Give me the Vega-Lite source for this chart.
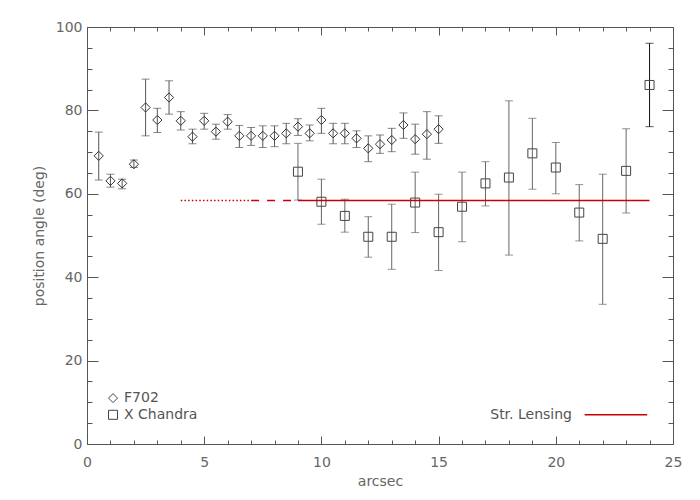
{
  "$schema": "https://vega.github.io/schema/vega-lite/v6.json",
  "autosize": {"type": "none"},
  "padding": {"left": 87, "top": 27, "right": 27, "bottom": 56},
  "width": 586,
  "height": 417,
  "background": "white",
  "config": {
    "view": {"stroke": null},
    "axis": {
      "grid": false,
      "domainColor": "#555",
      "tickColor": "#555",
      "labelColor": "#666",
      "titleColor": "#666",
      "labelFont": "DejaVu Sans",
      "titleFont": "DejaVu Sans",
      "labelFontSize": 14,
      "titleFontSize": 14,
      "titleFontWeight": "normal",
      "domainWidth": 1,
      "tickWidth": 1
    }
  },
  "datasets": {
    "f702": [
      {"x": 0.5, "y": 69.1, "lo": 63.3, "hi": 74.8},
      {"x": 1.0, "y": 63.1, "lo": 61.6, "hi": 64.7},
      {"x": 1.5, "y": 62.5, "lo": 61.2, "hi": 63.5},
      {"x": 2.0, "y": 67.1, "lo": 66.3, "hi": 68.1},
      {"x": 2.5, "y": 80.7, "lo": 73.9, "hi": 87.5},
      {"x": 3.0, "y": 77.7, "lo": 74.7, "hi": 80.5},
      {"x": 3.5, "y": 83.1, "lo": 79.1, "hi": 87.1},
      {"x": 4.0, "y": 77.5, "lo": 75.3, "hi": 79.7},
      {"x": 4.5, "y": 73.7, "lo": 72.0, "hi": 75.5},
      {"x": 5.0, "y": 77.5, "lo": 75.5, "hi": 79.3},
      {"x": 5.5, "y": 74.9, "lo": 73.1, "hi": 76.7},
      {"x": 6.0, "y": 77.3, "lo": 75.5, "hi": 79.0},
      {"x": 6.5, "y": 73.9, "lo": 71.1, "hi": 76.4},
      {"x": 7.0, "y": 73.9, "lo": 71.6, "hi": 75.9},
      {"x": 7.5, "y": 73.9, "lo": 71.1, "hi": 76.3},
      {"x": 8.0, "y": 73.9, "lo": 71.3, "hi": 76.3},
      {"x": 8.5, "y": 74.5, "lo": 72.0, "hi": 76.9},
      {"x": 9.0, "y": 76.1, "lo": 74.0, "hi": 78.0},
      {"x": 9.5, "y": 74.5, "lo": 72.7, "hi": 76.5},
      {"x": 10.0, "y": 77.7, "lo": 74.5, "hi": 80.5},
      {"x": 10.5, "y": 74.5, "lo": 72.0, "hi": 76.9},
      {"x": 11.0, "y": 74.5, "lo": 72.0, "hi": 76.9},
      {"x": 11.5, "y": 73.3, "lo": 71.1, "hi": 75.1},
      {"x": 12.0, "y": 70.9, "lo": 67.7, "hi": 73.9},
      {"x": 12.5, "y": 71.9, "lo": 69.7, "hi": 74.1},
      {"x": 13.0, "y": 72.9, "lo": 70.1, "hi": 75.7},
      {"x": 13.5, "y": 76.5, "lo": 73.3, "hi": 79.4},
      {"x": 14.0, "y": 73.1, "lo": 69.5, "hi": 76.7},
      {"x": 14.5, "y": 74.3, "lo": 68.3, "hi": 79.7},
      {"x": 15.0, "y": 75.5, "lo": 72.1, "hi": 78.7}
    ],
    "chandra": [
      {"x": 9, "y": 65.3, "lo": 58.5, "hi": 72.1},
      {"x": 10, "y": 58.1, "lo": 52.7, "hi": 63.5},
      {"x": 11, "y": 54.7, "lo": 50.8, "hi": 58.7},
      {"x": 12, "y": 49.7, "lo": 44.8, "hi": 54.5},
      {"x": 13, "y": 49.7, "lo": 41.9, "hi": 57.5},
      {"x": 14, "y": 57.9, "lo": 50.7, "hi": 65.2},
      {"x": 15, "y": 50.8, "lo": 41.6, "hi": 59.9},
      {"x": 16, "y": 56.9, "lo": 48.5, "hi": 65.2},
      {"x": 17, "y": 62.5, "lo": 57.1, "hi": 67.7},
      {"x": 18, "y": 63.9, "lo": 45.3, "hi": 82.3},
      {"x": 19, "y": 69.7, "lo": 61.1, "hi": 78.1},
      {"x": 20, "y": 66.3, "lo": 60.0, "hi": 72.3},
      {"x": 21, "y": 55.5, "lo": 48.7, "hi": 62.2},
      {"x": 22, "y": 49.2, "lo": 33.5, "hi": 64.7},
      {"x": 23, "y": 65.5, "lo": 55.4, "hi": 75.6},
      {"x": 24, "y": 86.1, "lo": 76.1, "hi": 96.1}
    ],
    "lensing": [
      {"x": 4, "y": 58.4, "seg": "dotted"},
      {"x": 7, "y": 58.4, "seg": "dotted"},
      {"x": 7, "y": 58.4, "seg": "dashed"},
      {"x": 9, "y": 58.4, "seg": "dashed"},
      {"x": 9, "y": 58.4, "seg": "solid"},
      {"x": 24, "y": 58.4, "seg": "solid"}
    ],
    "legend": [
      {"series": "F702", "x": 1.11, "tx": 1.58, "y": 11},
      {"series": "X Chandra", "x": 1.11, "tx": 1.58, "y": 7}
    ],
    "lenslegend": [
      {"label": "Str. Lensing", "x": 21.23, "tx": 20.69, "y": 7},
      {"label": "Str. Lensing", "x": 23.9, "tx": 20.69, "y": 7}
    ]
  },
  "resolve": {"axis": {"x": "independent", "y": "independent"}},
  "layer": [
    {
      "data": {"name": "f702"},
      "mark": {"type": "rule", "color": "#555", "strokeWidth": 1},
      "encoding": {
        "x": {"field": "x", "type": "quantitative",
          "scale": {"domain": [0, 25], "nice": false, "zero": false},
          "axis": {"orient": "bottom", "title": "arcsec",
            "values": [0,1,2,3,4,5,6,7,8,9,10,11,12,13,14,15,16,17,18,19,20,21,22,23,24,25],
            "tickSize": {"condition": {"test": "datum.value % 5 === 0", "value": -8}, "value": -4},
            "labelExpr": "datum.value % 5 === 0 ? datum.label : ''",
            "labelPadding": 19, "titlePadding": 5, "labelFlush": false}},
        "y": {"field": "lo", "type": "quantitative",
          "scale": {"domain": [0, 100], "nice": false},
          "axis": {"orient": "left", "title": "position angle (deg)",
            "values": [0,5,10,15,20,25,30,35,40,45,50,55,60,65,70,75,80,85,90,95,100],
            "tickSize": {"condition": {"test": "datum.value % 20 === 0", "value": -11}, "value": -5},
            "labelExpr": "datum.value % 20 === 0 ? datum.label : ''",
            "labelPadding": 16, "titlePadding": 9, "labelFlush": false}},
        "y2": {"field": "hi"}
      }
    },
    {
      "data": {"name": "chandra"},
      "mark": {"type": "rule", "strokeWidth": 1},
      "encoding": {
        "x": {"field": "x", "type": "quantitative",
          "axis": {"orient": "top", "title": null, "labels": false,
            "values": [0,1,2,3,4,5,6,7,8,9,10,11,12,13,14,15,16,17,18,19,20,21,22,23,24,25],
            "tickSize": {"condition": {"test": "datum.value % 5 === 0", "value": -8}, "value": -4}}},
        "y": {"field": "lo", "type": "quantitative",
          "axis": {"orient": "right", "title": null, "labels": false,
            "values": [0,5,10,15,20,25,30,35,40,45,50,55,60,65,70,75,80,85,90,95,100],
            "tickSize": {"condition": {"test": "datum.value % 20 === 0", "value": -11}, "value": -5}}},
        "y2": {"field": "hi"},
        "color": {"condition": {"test": "datum.x === 24", "value": "#111"}, "value": "#666"}
      }
    },
    {
      "data": {"name": "f702"},
      "transform": [{"fold": ["lo", "hi"], "as": ["end", "val"]}],
      "mark": {"type": "tick", "orient": "horizontal", "size": 8, "thickness": 1, "color": "#555"},
      "encoding": {
        "x": {"field": "x", "type": "quantitative", "axis": null},
        "y": {"field": "val", "type": "quantitative", "axis": null}
      }
    },
    {
      "data": {"name": "chandra"},
      "transform": [{"fold": ["lo", "hi"], "as": ["end", "val"]}],
      "mark": {"type": "tick", "orient": "horizontal", "size": 8, "thickness": 1},
      "encoding": {
        "x": {"field": "x", "type": "quantitative", "axis": null},
        "y": {"field": "val", "type": "quantitative", "axis": null},
        "color": {"condition": {"test": "datum.x === 24", "value": "#111"}, "value": "#666"}
      }
    },
    {
      "data": {"name": "f702"},
      "mark": {"type": "point", "shape": "diamond", "filled": false, "size": 85, "color": "#333", "strokeWidth": 1, "opacity": 1},
      "encoding": {
        "x": {"field": "x", "type": "quantitative", "axis": null},
        "y": {"field": "y", "type": "quantitative", "axis": null}
      }
    },
    {
      "data": {"name": "chandra"},
      "mark": {"type": "point", "shape": "square", "filled": false, "size": 81, "color": "#444", "strokeWidth": 1, "opacity": 1},
      "encoding": {
        "x": {"field": "x", "type": "quantitative", "axis": null},
        "y": {"field": "y", "type": "quantitative", "axis": null}
      }
    },
    {
      "data": {"name": "lensing"},
      "mark": {"type": "line", "color": "#cc0000", "strokeWidth": 1.5},
      "encoding": {
        "x": {"field": "x", "type": "quantitative", "axis": null},
        "y": {"field": "y", "type": "quantitative", "axis": null},
        "detail": {"field": "seg"},
        "strokeDash": {"field": "seg", "type": "nominal", "legend": null,
          "scale": {"domain": ["dotted", "dashed", "solid"], "range": [[1.5, 2.2], [8, 8], [1, 0]]}}
      }
    },
    {
      "data": {"name": "legend"},
      "mark": {"type": "point", "filled": false, "size": 81, "color": "#444", "strokeWidth": 1, "opacity": 1},
      "encoding": {
        "x": {"field": "x", "type": "quantitative", "axis": null},
        "y": {"field": "y", "type": "quantitative", "axis": null},
        "shape": {"field": "series", "type": "nominal", "legend": null,
          "scale": {"domain": ["F702", "X Chandra"], "range": ["diamond", "square"]}}
      }
    },
    {
      "data": {"name": "legend"},
      "mark": {"type": "text", "align": "left", "baseline": "middle", "font": "DejaVu Sans", "fontSize": 14, "color": "#555"},
      "encoding": {
        "x": {"field": "tx", "type": "quantitative", "axis": null},
        "y": {"field": "y", "type": "quantitative", "axis": null},
        "text": {"field": "series"}
      }
    },
    {
      "data": {"name": "lenslegend"},
      "mark": {"type": "line", "color": "#cc0000", "strokeWidth": 1.5},
      "encoding": {
        "x": {"field": "x", "type": "quantitative", "axis": null},
        "y": {"field": "y", "type": "quantitative", "axis": null}
      }
    },
    {
      "data": {"name": "lenslegend"},
      "transform": [{"filter": "datum.x < 22"}],
      "mark": {"type": "text", "align": "right", "baseline": "middle", "font": "DejaVu Sans", "fontSize": 14, "color": "#555"},
      "encoding": {
        "x": {"field": "tx", "type": "quantitative", "axis": null},
        "y": {"field": "y", "type": "quantitative", "axis": null},
        "text": {"field": "label"}
      }
    }
  ]
}
